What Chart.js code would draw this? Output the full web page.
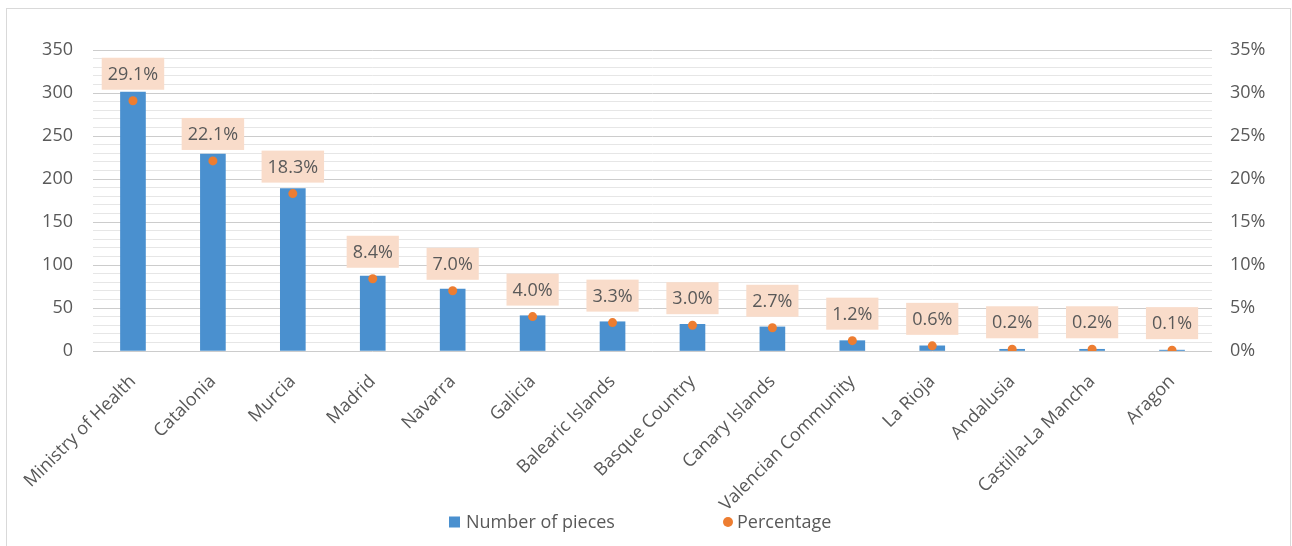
<!DOCTYPE html>
<html><head><meta charset="utf-8">
<script src="https://cdn.jsdelivr.net/npm/chart.js@4/dist/chart.umd.min.js"></script>
<style>html,body{margin:0;padding:0;background:#fff;}#wrap{width:1292px;height:546px;}</style>
</head><body><div id="wrap"><canvas id="c" width="1292" height="546"></canvas></div>
<script>
const categories = ["Ministry of Health","Catalonia","Murcia","Madrid","Navarra","Galicia","Balearic Islands","Basque Country","Canary Islands","Valencian Community","La Rioja","Andalusia","Castilla-La Mancha","Aragon"];
const pieces = [301,229,189,87,72,41,34,31,28,12,6,2,2,1];
const percentages = [29.1,22.1,18.3,8.4,7.0,4.0,3.3,3.0,2.7,1.2,0.6,0.2,0.2,0.1];
const leftAxis = {max: 350, major: 50, minor: 10};
const rightAxis = {max: 35, step: 5};
const seriesNames = ["Number of pieces","Percentage"];

const FONT = "'Open Sans', 'Noto Sans', sans-serif";
const TXT = '#595959';
const BLUE = '#4a90cf';
const ORANGE = '#ed7d31';
const PEACH = '#f9dcca';

const decor = {
  id: 'decor',
  beforeDraw(chart) {
    const ctx = chart.ctx;
    ctx.save();
    ctx.fillStyle = '#fff';
    ctx.fillRect(0, 0, chart.width, chart.height);
    ctx.strokeStyle = '#d9d9d9';
    ctx.lineWidth = 1;
    ctx.strokeRect(6.5, 8.5, 1284, 560);
    ctx.restore();
  },
  afterDatasetsDraw(chart) {
    const ctx = chart.ctx;
    const meta = chart.getDatasetMeta(1);
    ctx.save();
    ctx.font = '18px ' + FONT;
    ctx.textAlign = 'center';
    ctx.textBaseline = 'middle';
    meta.data.forEach((pt, i) => {
      const txt = percentages[i].toFixed(1) + '%';
      const w = ctx.measureText(txt).width + 12;
      const h = 32;
      const bx = pt.x - w / 2;
      const by = pt.y - 11 - h;
      ctx.fillStyle = PEACH;
      ctx.fillRect(bx, by, w, h);
      ctx.fillStyle = TXT;
      ctx.fillText(txt, pt.x, by + h / 2 + 1);
    });
    // legend
    const ly = 522;
    ctx.font = '18px ' + FONT;
    ctx.textAlign = 'left';
    ctx.fillStyle = BLUE;
    ctx.fillRect(449, ly - 5.5, 11, 11);
    ctx.fillStyle = TXT;
    ctx.fillText(seriesNames[0], 466, ly + 1);
    ctx.fillStyle = ORANGE;
    ctx.beginPath(); ctx.arc(728, ly, 5, 0, Math.PI * 2); ctx.fill();
    ctx.fillStyle = TXT;
    ctx.fillText(seriesNames[1], 737, ly + 1);
    ctx.restore();
  }
};

new Chart(document.getElementById('c'), {
  data: {
    labels: categories,
    datasets: [
      {type: 'bar', label: seriesNames[0], data: pieces, backgroundColor: BLUE, barThickness: 25, yAxisID: 'y', order: 2},
      {type: 'line', label: seriesNames[1], data: percentages, showLine: false, pointRadius: 4.5, pointHoverRadius: 4.5,
       pointBackgroundColor: ORANGE, pointBorderColor: ORANGE, pointBorderWidth: 0, yAxisID: 'y1', order: 1}
    ]
  },
  options: {
    responsive: false,
    animation: false,
    events: [],
    layout: {padding: {top: 50, left: 0, right: 0, bottom: 0}},
    plugins: {legend: {display: false}, tooltip: {enabled: false}},
    scales: {
      x: {
        grid: {display: false, drawTicks: false},
        border: {display: false},
        ticks: {color: TXT, font: {family: FONT, size: 18}, minRotation: 45, maxRotation: 45, padding: 20, autoSkip: false},
        afterFit(s) { s.height = 195; }
      },
      y: {
        position: 'left', min: 0, max: leftAxis.max,
        ticks: {stepSize: leftAxis.minor, autoSkip: false, color: TXT, font: {family: FONT, size: 18}, padding: 20,
          callback: v => (v % leftAxis.major === 0 ? String(v) : '')},
        grid: {drawTicks: false, color: c => (c.tick && c.tick.value % leftAxis.major === 0 ? '#cccccc' : '#e6e6e6'), lineWidth: 1},
        border: {display: false},
        afterFit(s) { s.width = 93; }
      },
      y1: {
        position: 'right', min: 0, max: rightAxis.max,
        ticks: {stepSize: rightAxis.step, autoSkip: false, color: TXT, font: {family: FONT, size: 18}, padding: 18, callback: v => v + '%'},
        grid: {display: false, drawTicks: false},
        border: {display: false},
        afterFit(s) { s.width = 80; }
      }
    }
  },
  plugins: [decor]
});
</script>
</body></html>
